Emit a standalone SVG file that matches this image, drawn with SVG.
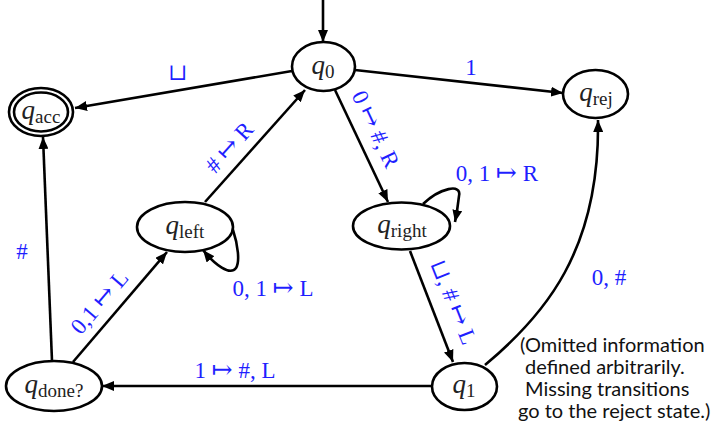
<svg xmlns="http://www.w3.org/2000/svg" width="719" height="432" viewBox="0 0 719 432">
<defs>
<style>
.st{fill:#fff;stroke:#000;stroke-width:2.6}
.e{fill:none;stroke:#000;stroke-width:2.6}
.q{font-family:"Liberation Serif","DejaVu Serif",serif;font-size:27px;fill:#222;text-anchor:middle}
.q .i{font-style:italic}
.q .s{font-size:19px}
.lb{font-family:"Liberation Serif","DejaVu Serif",serif;font-size:23px;fill:#1f1fff;text-anchor:middle}
.a{font-size:25px}
.nt{font-family:Lato,"Open Sans",sans-serif;font-size:20px;fill:#111}
</style>
<marker id="ah" viewBox="0 0 12 10" refX="12" refY="5" markerWidth="12" markerHeight="10" markerUnits="userSpaceOnUse" orient="auto">
<path d="M0,0 L12,5 L0,10 Z" fill="#000"/>
</marker>
</defs>

<g id="connectors">
<line class="e" x1="323" y1="0" x2="323" y2="42" marker-end="url(#ah)"/>
<line class="e" x1="292" y1="71" x2="75" y2="108" marker-end="url(#ah)"/>
<line class="e" x1="355" y1="70" x2="563" y2="93" marker-end="url(#ah)"/>
<line class="e" x1="335" y1="90" x2="388" y2="202" marker-end="url(#ah)"/>
<path class="e" d="M423,204 C440,188 462,183 459,196 C458,205 457,212 455,222" marker-end="url(#ah)"/>
<line class="e" x1="410" y1="251" x2="453" y2="362" marker-end="url(#ah)"/>
<path class="e" d="M485,365 C545,315 600,250 598,120" marker-end="url(#ah)"/>
<line class="e" x1="432" y1="386" x2="102" y2="386" marker-end="url(#ah)"/>
<line class="e" x1="52" y1="361" x2="43" y2="137" marker-end="url(#ah)"/>
<line class="e" x1="73" y1="362" x2="167" y2="252" marker-end="url(#ah)"/>
<line class="e" x1="205" y1="202" x2="305" y2="90" marker-end="url(#ah)"/>
<path class="e" d="M233,230 C238,245 240,262 236,268 C230,276 215,265 203,250" marker-end="url(#ah)"/>
</g>

<g id="labels">
<text class="lb" x="178" y="80">⊔</text>
<text class="lb" x="471" y="75">1</text>
<text class="lb" transform="translate(376,129) rotate(64.7)" dy="0.35em">0 <tspan class="a">↦</tspan> #, R</text>
<text class="lb" x="497" y="181">0, 1 <tspan class="a">↦</tspan> R</text>
<text class="lb" transform="translate(454,302) rotate(68.3)" dy="0.35em">⊔, # <tspan class="a">↦</tspan> L</text>
<text class="lb" x="609" y="285">0, #</text>
<text class="lb" x="235" y="378">1 <tspan class="a">↦</tspan> #, L</text>
<text class="lb" x="22" y="259">#</text>
<text class="lb" transform="translate(99,302) rotate(-49.5)" dy="0.35em">0,1 <tspan class="a">↦</tspan> L</text>
<text class="lb" transform="translate(229,147) rotate(-48.2)" dy="0.35em"># <tspan class="a">↦</tspan> R</text>
<text class="lb" x="273" y="296">0, 1 <tspan class="a">↦</tspan> L</text>
</g>

<g id="q0">
<ellipse class="st" cx="323.5" cy="66.5" rx="31.5" ry="24.5"/>
<text class="q" x="323" y="74"><tspan class="i">q</tspan><tspan class="s" dy="4">0</tspan></text>
</g>
<g id="qacc">
<ellipse class="st" cx="41" cy="112" rx="32" ry="24"/>
<ellipse class="st" cx="41" cy="112" rx="27" ry="19.5"/>
<text class="q" x="41" y="119"><tspan class="i">q</tspan><tspan class="s" dy="4">acc</tspan></text>
</g>
<g id="qrej">
<ellipse class="st" cx="595.5" cy="94" rx="32.5" ry="24"/>
<text class="q" x="596" y="101"><tspan class="i">q</tspan><tspan class="s" dy="4">rej</tspan></text>
</g>
<g id="qleft">
<ellipse class="st" cx="185" cy="227" rx="48" ry="25"/>
<text class="q" x="185" y="234"><tspan class="i">q</tspan><tspan class="s" dy="4">left</tspan></text>
</g>
<g id="qright">
<ellipse class="st" cx="401.5" cy="226" rx="48.5" ry="23.5"/>
<text class="q" x="402" y="233"><tspan class="i">q</tspan><tspan class="s" dy="4">right</tspan></text>
</g>
<g id="q1">
<ellipse class="st" cx="464.5" cy="386.5" rx="32.5" ry="23.5"/>
<text class="q" x="464" y="393"><tspan class="i">q</tspan><tspan class="s" dy="4">1</tspan></text>
</g>
<g id="qdone">
<ellipse class="st" cx="54" cy="386" rx="48" ry="25"/>
<text class="q" x="54" y="393"><tspan class="i">q</tspan><tspan class="s" dy="4">done?</tspan></text>
</g>

<g id="note">
<text class="nt" x="520" y="352">(Omitted information</text>
<text class="nt" x="525" y="374">defined arbitrarily.</text>
<text class="nt" x="525" y="396">Missing transitions</text>
<text class="nt" x="518" y="418">go to the reject state.)</text>
</g>
</svg>
